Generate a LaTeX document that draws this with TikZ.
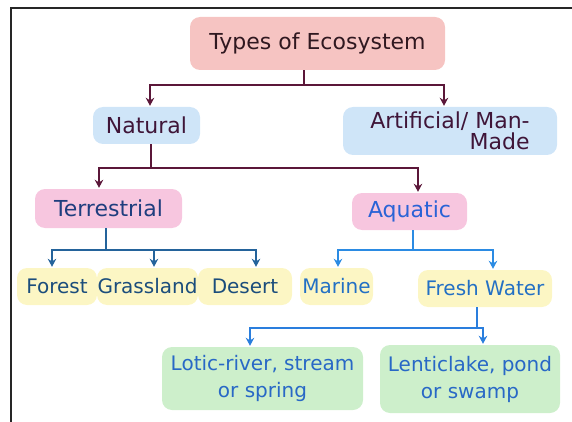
\documentclass[tikz,border=0pt]{standalone}
\usepackage{fontspec}
\setmainfont{DejaVu Sans}
\usetikzlibrary{arrows.meta}
\definecolor{titlepink}{HTML}{F6C4C2}
\definecolor{natblue}{HTML}{CFE5F8}
\definecolor{catpink}{HTML}{F7C6DF}
\definecolor{sandyellow}{HTML}{FCF6C4}
\definecolor{leafgreen}{HTML}{CDEFCB}
\definecolor{maroonline}{HTML}{5B1739}
\definecolor{titleink}{HTML}{301820}
\definecolor{natink}{HTML}{3F1538}
\definecolor{terrink}{HTML}{1F3E7E}
\definecolor{terrline}{HTML}{24639B}
\definecolor{aquaink}{HTML}{2A63D6}
\definecolor{aqualine}{HTML}{2B8BE3}
\definecolor{landink}{HTML}{1B4D7C}
\definecolor{waterink}{HTML}{2370C4}
\definecolor{freshink}{HTML}{2868C6}
\definecolor{freshline}{HTML}{2A7EDD}
\tikzset{
  box/.style={rounded corners=10pt,inner sep=0pt,align=center,
    font=\fontsize{20}{27}\selectfont},
  titlebox/.style={box,fill=titlepink,text=titleink,font=\fontsize{22}{26}\selectfont},
  bluebox/.style={box,fill=natblue,text=natink,font=\fontsize{22}{26}\selectfont},
  pinkbox/.style={box,fill=catpink,font=\fontsize{22}{26}\selectfont},
  yellowbox/.style={box,fill=sandyellow,text=landink,minimum height=37pt},
  greenbox/.style={box,fill=leafgreen,text=freshink},
  link/.style={line width=2.8pt,shorten >=1pt},
}

\begin{document}
\begin{tikzpicture}[x=1pt,y=-1pt,>={Stealth[length=8pt,width=8.5pt]}]
  \useasboundingbox (0,0) rectangle (572,422);
  % frame (only left and top edges show)
  \draw[line width=2pt,black!85] (11,422) -- (11,8) -- (572,8);

  % level 0
  \node[titlebox,minimum width=255pt,minimum height=53pt] (types) at (317.5,43.5) {Types of Ecosystem};
  % level 1
  \node[bluebox,minimum width=107pt,minimum height=37pt] (natural) at (146.5,125.5) {Natural};
  \node[bluebox,minimum width=214pt,minimum height=48pt,align=right,
    font=\fontsize{22}{21}\selectfont] (artificial) at (450,131) {Artificial/ Man-\\Made};
  % level 2
  \node[pinkbox,text=terrink,minimum width=147pt,minimum height=39pt] (terrestrial) at (108.5,208.5) {Terrestrial};
  \node[pinkbox,text=aquaink,minimum width=115pt,minimum height=37pt] (aquatic) at (409.5,211.5) {Aquatic};
  % level 3
  \node[yellowbox,minimum width=80pt] (forest) at (57,286.5) {Forest};
  \node[yellowbox,minimum width=101pt] (grassland) at (147.5,286.5) {Grassland};
  \node[yellowbox,minimum width=94pt] (desert) at (245,286.5) {Desert};
  \node[yellowbox,text=waterink,minimum width=73pt] (marine) at (336.5,286.5) {Marine};
  \node[yellowbox,text=waterink,minimum width=134pt] (freshwater) at (485,288.5) {Fresh Water};
  % level 4
  \node[greenbox,minimum width=201pt,minimum height=63pt] (lotic) at (262.5,378.5) {Lotic-river, stream\\or spring};
  \node[greenbox,minimum width=180pt,minimum height=68pt] (lentic) at (470,379) {Lenticlake, pond\\or swamp};

  % forks
  \coordinate (typesfork) at (304,85);
  \coordinate (natfork) at (151,168);
  \coordinate (terrfork) at (106,250);
  \coordinate (aquafork) at (413,250);
  \coordinate (freshfork) at (477,328);

  % connectors
  \draw[link,maroonline] (typesfork |- types.south) -- (typesfork);
  \draw[link,maroonline,->] (typesfork) -| ([xshift=3.5pt]natural.north);
  \draw[link,maroonline,->] (typesfork) -| ([xshift=-6pt]artificial.north);

  \draw[link,maroonline] (natfork |- natural.south) -- (natfork);
  \draw[link,maroonline,->] (natfork) -| ([xshift=-9.5pt]terrestrial.north);
  \draw[link,maroonline,->] (natfork) -| ([xshift=8.5pt]aquatic.north);

  \draw[link,terrline] (terrfork |- terrestrial.south) -- (terrfork);
  \draw[link,terrline,->] (terrfork) -| ([xshift=-5pt]forest.north);
  \draw[link,terrline,->] (terrfork) -| ([xshift=6.5pt]grassland.north);
  \draw[link,terrline,->] (terrfork) -| ([xshift=11pt]desert.north);

  \draw[link,aqualine] (aquafork |- aquatic.south) -- (aquafork);
  \draw[link,aqualine,->] (aquafork) -| ([xshift=1.5pt]marine.north);
  \draw[link,aqualine,->] (aquafork) -| ([xshift=8pt]freshwater.north);

  \draw[link,freshline] (freshfork |- freshwater.south) -- (freshfork);
  \draw[link,freshline,->] (freshfork) -| ([xshift=-12.5pt]lotic.north);
  \draw[link,freshline,->] (freshfork) -| ([xshift=13pt]lentic.north);
\end{tikzpicture}
\end{document}
